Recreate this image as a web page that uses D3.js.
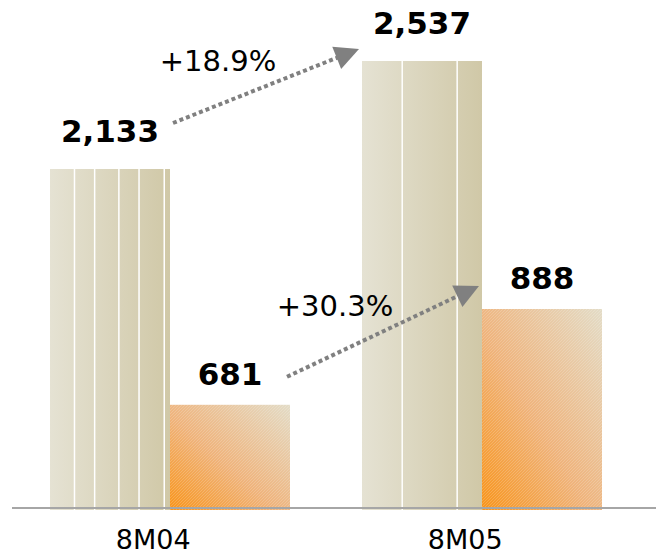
<!DOCTYPE html>
<html>
<head>
<meta charset="utf-8">
<script src="https://cdn.jsdelivr.net/npm/d3@7"></script>
<style>
  html, body { margin: 0; padding: 0; background: #fff; }
  svg { display: block; }
</style>
</head>
<body>
<svg id="chart" width="656" height="557"></svg>
<script>
// Period totals and the highlighted sub-figure for each period
const categories = ["8M04", "8M05"];
const totalValues = [2133, 2537];
const subValues = [681, 888];
const totalLabels = ["2,133", "2,537"];
const subLabels = ["681", "888"];
const growthLabels = ["+18.9%", "+30.3%"];

const W = 656, H = 557;
const baseY = 508;
const svg = d3.select("#chart");
const defs = svg.append("defs");

// Category bands and the two bars inside each band
const x = d3.scaleBand().domain(categories).range([50, 602]).paddingInner(0.2308).paddingOuter(0);
const inner = d3.scaleBand().domain(["total", "sub"]).range([0, x.bandwidth()]);

// Each series runs on its own truncated value axis
const yTotal = d3.scaleLinear().domain([865, 2537]).range([baseY, 61]);
const ySub = d3.scaleLinear().domain([458, 888]).range([baseY, 309]);

// Fills
const beige = defs.append("linearGradient").attr("id", "beige")
  .attr("x1", 0).attr("y1", 0).attr("x2", 1).attr("y2", 0);
beige.append("stop").attr("offset", 0).attr("stop-color", "#e5e2d3");
beige.append("stop").attr("offset", 1).attr("stop-color", "#d0c8a7");

const orange = defs.append("linearGradient").attr("id", "orange")
  .attr("x1", 0).attr("y1", 1).attr("x2", 1).attr("y2", 0);
orange.append("stop").attr("offset", 0).attr("stop-color", "#f8951c");
orange.append("stop").attr("offset", 0.45).attr("stop-color", "#efb47d");
orange.append("stop").attr("offset", 1).attr("stop-color", "#e3dcc7");

const grain = defs.append("pattern").attr("id", "grain")
  .attr("patternUnits", "userSpaceOnUse").attr("width", 3).attr("height", 3);
grain.append("path").attr("d", "M-1,1 L1,-1 M0,3 L3,0 M2,4 L4,2")
  .attr("stroke", "#fff").attr("stroke-opacity", 0.22).attr("stroke-width", 0.8);

// Vertical white rules in the textured total bars (fractions of bar width)
const stripeFractions = [[0.204, 0.372, 0.574, 0.742, 0.952], [0.335, 0.793]];

const groups = svg.append("g").selectAll("g")
  .data(categories)
  .join("g")
  .attr("transform", d => `translate(${x(d)},0)`);

// Total bars
groups.append("rect")
  .attr("x", inner("total"))
  .attr("y", (d, i) => yTotal(totalValues[i]))
  .attr("width", inner.bandwidth())
  .attr("height", (d, i) => baseY + 2 - yTotal(totalValues[i]))
  .attr("fill", "url(#beige)");

groups.each(function (d, i) {
  d3.select(this).selectAll("line.stripe")
    .data(stripeFractions[i])
    .join("line")
    .attr("class", "stripe")
    .attr("x1", f => inner("total") + f * inner.bandwidth())
    .attr("x2", f => inner("total") + f * inner.bandwidth())
    .attr("y1", yTotal(totalValues[i]))
    .attr("y2", baseY + 2)
    .attr("stroke", "#fff")
    .attr("stroke-width", 1.5);
});

// Sub-figure bars
groups.append("rect")
  .attr("x", inner("sub"))
  .attr("y", (d, i) => ySub(subValues[i]))
  .attr("width", inner.bandwidth())
  .attr("height", (d, i) => baseY + 2 - ySub(subValues[i]))
  .attr("fill", "url(#orange)");
groups.append("rect")
  .attr("x", inner("sub"))
  .attr("y", (d, i) => ySub(subValues[i]))
  .attr("width", inner.bandwidth())
  .attr("height", (d, i) => baseY + 2 - ySub(subValues[i]))
  .attr("fill", "url(#grain)");

// Baseline
svg.append("line")
  .attr("x1", 12).attr("x2", W)
  .attr("y1", baseY).attr("y2", baseY)
  .attr("stroke", "#a6a6a6").attr("stroke-width", 2);

// Value labels
const font = "'DejaVu Sans', Verdana, sans-serif";
groups.append("text")
  .attr("x", inner("total") + inner.bandwidth() / 2)
  .attr("y", (d, i) => yTotal(totalValues[i]) - 27)
  .attr("text-anchor", "middle")
  .attr("font-family", font).attr("font-weight", "bold").attr("font-size", 31)
  .attr("fill", "#000")
  .text((d, i) => totalLabels[i]);

groups.append("text")
  .attr("x", inner("sub") + inner.bandwidth() / 2)
  .attr("y", (d, i) => ySub(subValues[i]) - 20)
  .attr("text-anchor", "middle")
  .attr("font-family", font).attr("font-weight", "bold").attr("font-size", 31)
  .attr("fill", "#000")
  .text((d, i) => subLabels[i]);

// Category labels
groups.append("text")
  .attr("x", x.bandwidth() * 0.43)
  .attr("y", 549)
  .attr("text-anchor", "middle")
  .attr("font-family", font).attr("font-size", 27)
  .attr("fill", "#000")
  .text(d => d);

// Growth arrows between consecutive periods
const c0 = categories[0], c1 = categories[1];
const arrows = [
  {
    from: [x(c0) + inner("total") + inner.bandwidth() + 3, yTotal(totalValues[0]) - 46],
    to: [x(c1) + inner("total") - 3, yTotal(totalValues[1]) - 12],
    label: growthLabels[0]
  },
  {
    from: [x(c0) + inner("sub") + inner.bandwidth() - 3, ySub(subValues[0]) - 28],
    to: [x(c1) + inner("sub") - 3, ySub(subValues[1]) - 23],
    label: growthLabels[1]
  }
];

const headLen = 24, headHalf = 12;
const arrowG = svg.append("g");
arrows.forEach(a => {
  const [x0, y0] = a.from, [x1, y1] = a.to;
  const len = Math.hypot(x1 - x0, y1 - y0);
  const ux = (x1 - x0) / len, uy = (y1 - y0) / len;
  const bx = x1 - ux * headLen, by = y1 - uy * headLen;
  arrowG.append("line")
    .attr("x1", x0).attr("y1", y0)
    .attr("x2", bx + ux * 2).attr("y2", by + uy * 2)
    .attr("stroke", "#808080").attr("stroke-width", 4)
    .attr("stroke-dasharray", "4 3");
  arrowG.append("polygon")
    .attr("points", [
      [x1, y1],
      [bx - uy * headHalf, by + ux * headHalf],
      [bx + uy * headHalf, by - ux * headHalf]
    ].map(p => p.join(",")).join(" "))
    .attr("fill", "#808080");
  const mx = (x0 + x1) / 2, my = (y0 + y1) / 2;
  arrowG.append("text")
    .attr("x", mx - 48).attr("y", my - 15)
    .attr("text-anchor", "middle")
    .attr("font-family", font).attr("font-size", 29)
    .attr("fill", "#000")
    .text(a.label);
});
</script>
</body>
</html>
